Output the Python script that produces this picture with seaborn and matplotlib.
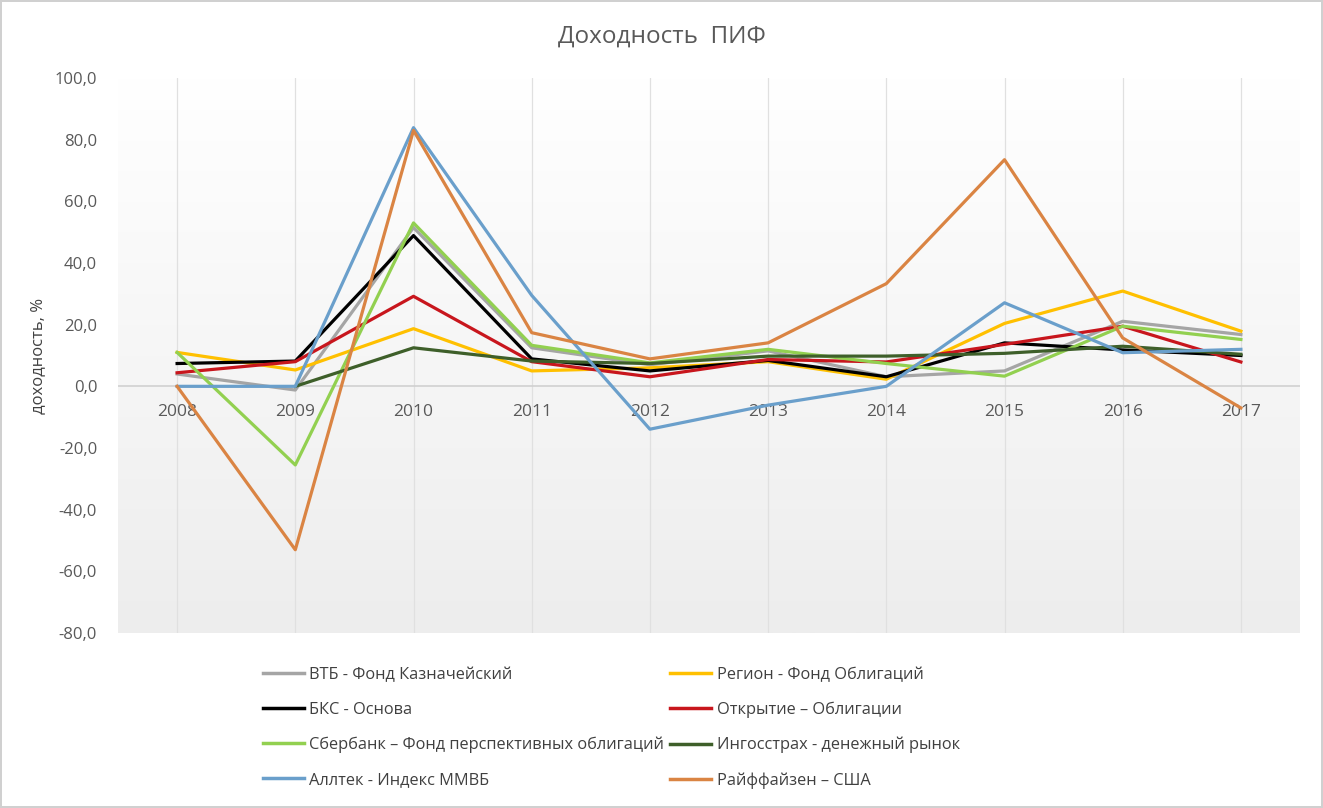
import numpy as np
import pandas as pd
import matplotlib
matplotlib.use("Agg")
import matplotlib.pyplot as plt
import seaborn as sns
from matplotlib.lines import Line2D
from matplotlib.ticker import FuncFormatter

# =========================
# DATA
# =========================

years = [2008, 2009, 2010, 2011, 2012, 2013, 2014, 2015, 2016, 2017]

vtb = [4.0, -1.2, 51.5, 12.5, 7.0, 11.5, 3.1, 5.0, 21.1, 16.8]
region = [11.0, 5.3, 18.7, 5.0, 6.0, 8.0, 2.3, 20.4, 30.9, 17.9]
bks = [7.4, 8.2, 48.9, 8.9, 5.0, 8.4, 3.1, 14.1, 11.8, 10.0]
otkrytie = [4.4, 8.0, 29.2, 8.0, 3.1, 8.7, 7.9, 13.6, 19.5, 7.9]
sberbank = [11.0, -25.5, 53.0, 13.3, 7.6, 12.0, 7.4, 3.3, 19.5, 15.2]
ingos = [np.nan, 0.0, 12.5, 8.2, 7.4, 9.8, 9.8, 10.7, 13.0, 10.4]
alltek = [0.0, 0.0, 83.9, 29.5, -13.9, -6.1, 0.0, 27.1, 10.9, 12.0]
raiff = [0.0, -53.0, 83.0, 17.4, 8.9, 14.1, 33.3, 73.5, 15.7, -7.0]

series_names = [
    "ВТБ - Фонд Казначейский",
    "Регион - Фонд Облигаций",
    "БКС - Основа",
    "Открытие – Облигации",
    "Сбербанк – Фонд перспективных облигаций",
    "Ингосстрах - денежный рынок",
    "Аллтек - Индекс ММВБ",
    "Райффайзен – США",
]
series_values = [vtb, region, bks, otkrytie, sberbank, ingos, alltek, raiff]

colors = [
    "#A5A5A5", "#FFC000", "#000000", "#C8161D",
    "#92D050", "#3E5F2A", "#6A9FCB", "#DA8443",
]

rows = []
for name, vals in zip(series_names, series_values):
    for y, v in zip(years, vals):
        rows.append({"year": y, "value": v, "fund": name})
df = pd.DataFrame(rows)

# =========================
# FIGURE
# =========================

fig = plt.figure(figsize=(13.23, 8.08), dpi=100)
fig.patch.set_edgecolor("#D0D0D0")
fig.patch.set_linewidth(1.5)
ax = fig.add_axes([118 / 1323, 1 - 633 / 808, (1300 - 118) / 1323, (633 - 78) / 808])

# gradient background of plot area
grad = np.linspace(0, 1, 256).reshape(-1, 1)
ax.imshow(grad, extent=[2007.5, 2017.5, -80, 100], aspect="auto",
          cmap=matplotlib.colors.LinearSegmentedColormap.from_list(
              "bg", ["#EDEDED", "#FFFFFF"]),
          origin="lower", zorder=0)

for y in years:
    ax.axvline(y, color="#E0E0E0", lw=0.9, zorder=1)
ax.axhline(0, color="#D0D0D0", lw=1.2, zorder=1)

sns.lineplot(
    data=df, x="year", y="value", hue="fund",
    hue_order=series_names, palette=colors,
    linewidth=2.3, ax=ax, legend=False, zorder=3,
)

ax.set_xlim(2007.5, 2017.5)
ax.set_ylim(-80, 100)
ax.set_yticks(np.arange(-80, 101, 20))
ax.yaxis.set_major_formatter(FuncFormatter(lambda v, p: f"{v:.1f}".replace(".", ",")))
ax.set_xticks(years)
ax.set_xticklabels([str(y) for y in years])

for s in ["top", "right", "left"]:
    ax.spines[s].set_visible(False)
ax.spines["bottom"].set_position(("data", 0))
ax.spines["bottom"].set_visible(False)

ax.tick_params(axis="both", length=0, colors="#595959")
ax.tick_params(axis="x", pad=13, labelsize=12.5)
ax.tick_params(axis="y", pad=15, labelsize=12)
for lab in ax.get_xticklabels() + ax.get_yticklabels():
    lab.set_family("Open Sans")

ax.set_xlabel("")
ax.set_ylabel("доходность, %", fontsize=12, color="#404040",
              family="Open Sans", labelpad=6)

fig.text(0.5, 1 - 37 / 808, "Доходность  ПИФ", ha="center", va="center",
         fontsize=17.5, color="#595959", family="Open Sans")

# =========================
# LEGEND (column-major order)
# =========================

order = [0, 2, 4, 6, 1, 3, 5, 7]
handles = [Line2D([], [], color=colors[i], lw=2.5) for i in order]
labels = [series_names[i] for i in order]
fig.legend(
    handles, labels, ncol=2, loc="upper left",
    bbox_to_anchor=(248 / 1323, 1 - 652 / 808),
    frameon=False, handlelength=2.5, handletextpad=0.35,
    columnspacing=0.35, labelspacing=1.15,
    prop={"family": "Open Sans", "size": 11.8},
)
for t in fig.legends[0].get_texts():
    t.set_color("#404040")

fig.savefig("out.png", dpi=100, facecolor="white", edgecolor=fig.patch.get_edgecolor())
